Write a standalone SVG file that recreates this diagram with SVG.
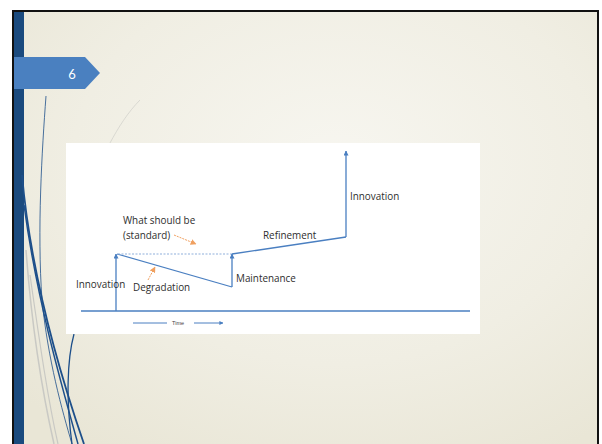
<svg xmlns="http://www.w3.org/2000/svg" width="602" height="444" viewBox="0 0 602 444">
  <defs>
    <radialGradient id="bg" cx="0.55" cy="0.35" r="0.75">
      <stop offset="0" stop-color="#f7f6f0"/>
      <stop offset="0.6" stop-color="#f0eee3"/>
      <stop offset="1" stop-color="#e9e6d6"/>
    </radialGradient>
    <marker id="ah" viewBox="0 0 10 10" refX="9" refY="5" markerWidth="5" markerHeight="5" orient="auto" markerUnits="userSpaceOnUse">
      <path d="M0,0 L10,5 L0,10 z" fill="#4a7fc1"/>
    </marker>
    <marker id="ahO" viewBox="0 0 10 10" refX="9" refY="5" markerWidth="6" markerHeight="6" orient="auto" markerUnits="userSpaceOnUse">
      <path d="M0,0 L10,5 L0,10 z" fill="#f0a060"/>
    </marker>
    <marker id="ahS" viewBox="0 0 10 10" refX="9" refY="5" markerWidth="4" markerHeight="4" orient="auto" markerUnits="userSpaceOnUse">
      <path d="M0,0 L10,5 L0,10 z" fill="#4a7fc1"/>
    </marker>
  </defs>
  <style>
    .lbl { font-family: "Open Sans", "Liberation Sans", sans-serif; font-size: 9.9px; fill: #2e2e2e; }
    .ln { fill: none; stroke: #4a7fc1; stroke-width: 1.3; }
    .or { fill: none; stroke: #f0a060; stroke-width: 1; stroke-dasharray: 2 1; }
    .deco { fill: none; stroke: #1d4f8a; }
    .grey { fill: none; stroke: #c9c9c4; }
  </style>

  <!-- slide frame -->
  <rect x="0" y="0" width="602" height="444" fill="#ffffff"/>
  <rect x="12" y="10" width="587" height="440" fill="#111"/>
  <rect x="14" y="12" width="583" height="440" fill="url(#bg)"/>
  <rect x="14" y="12" width="10" height="440" fill="#1a4a7e"/>

  <!-- decorative sweeps -->
  <g id="sweeps">
    <path class="grey" stroke-width="1.5" d="M26 250 C32 330 44 400 54 444"/>
    <path class="grey" stroke-width="1.2" d="M30 275 C40 345 48 400 58 444"/>
    <path class="grey" stroke-width="1" opacity="0.6" d="M110 143 C118 128 128 112 140 100"/>
    <path class="deco" stroke-width="1.8" d="M22 175 C30 265 55 360 84 444"/>
    <path class="deco" stroke-width="1.5" d="M24 205 C36 295 60 380 78 444"/>
    <path class="deco" stroke-width="0.8" stroke="#4a78aa" d="M46 96 C42 150 37 230 42 300 C48 360 62 410 72 444"/>
    <path class="deco" stroke-width="1.3" d="M74 334 C67 360 66 400 72 444"/>
  </g>

  <!-- slide number tab -->
  <g id="slide-number">
    <path d="M14 57 H85 L100 73 L85 89 H14 Z" fill="#4a80c0"/>
    <text x="72" y="79" font-family="Lato, 'Open Sans', sans-serif" font-size="13" fill="#ffffff" text-anchor="middle">6</text>
  </g>

  <!-- chart panel -->
  <rect x="66" y="143" width="414" height="191" fill="#ffffff"/>

  <g id="connectors">
    <!-- time axis -->
    <line class="ln" x1="81" y1="311" x2="470" y2="311"/>
    <!-- first innovation jump -->
    <line class="ln" x1="116" y1="311" x2="116" y2="254" marker-end="url(#ah)"/>
    <!-- degradation slope -->
    <line class="ln" x1="117" y1="254" x2="232" y2="287"/>
    <!-- standard level -->
    <line x1="118" y1="254" x2="232" y2="254" stroke="#8fb0dc" stroke-width="1.2" stroke-dasharray="2 1.5"/>
    <!-- maintenance jump -->
    <line class="ln" x1="232" y1="287" x2="232" y2="254" marker-end="url(#ah)"/>
    <!-- refinement slope -->
    <line class="ln" x1="232" y1="254" x2="346" y2="237"/>
    <!-- second innovation jump -->
    <line class="ln" x1="346" y1="237" x2="346" y2="151" marker-end="url(#ah)"/>
    <!-- callout pointers -->
    <line class="or" x1="174" y1="235" x2="196" y2="244" marker-end="url(#ahO)"/>
    <line class="or" x1="148" y1="280" x2="155" y2="267" marker-end="url(#ahO)"/>
    <!-- time direction -->
    <line x1="133" y1="323" x2="167" y2="323" stroke="#4a7fc1" stroke-width="1"/>
    <line x1="194" y1="323" x2="223" y2="323" stroke="#4a7fc1" stroke-width="1" marker-end="url(#ahS)"/>
  </g>

  <g id="innovation-1"><text class="lbl" x="76" y="288">Innovation</text></g>
  <g id="degradation"><text class="lbl" x="133" y="291">Degradation</text></g>
  <g id="standard">
    <text class="lbl" x="123" y="224">What should be</text>
    <text class="lbl" x="123" y="239">(standard)</text>
  </g>
  <g id="maintenance"><text class="lbl" x="236" y="282">Maintenance</text></g>
  <g id="refinement"><text class="lbl" x="263" y="239">Refinement</text></g>
  <g id="innovation-2"><text class="lbl" x="350" y="200">Innovation</text></g>
  <g id="time"><text x="172" y="325" font-family="'Liberation Sans', sans-serif" font-size="5.5" fill="#444">Time</text></g>
</svg>
